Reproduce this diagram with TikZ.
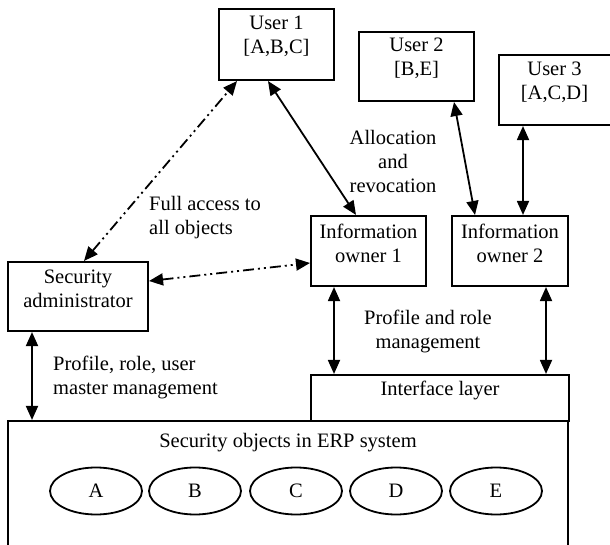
\documentclass[tikz,border=0pt]{standalone}
\usepackage{fontspec}
\setmainfont{Liberation Serif}
\usetikzlibrary{arrows.meta,calc,shapes.geometric}
\begin{document}
\begin{tikzpicture}[x=1pt,y=-1pt,
  box/.style={draw,line width=2.1pt,rectangle,inner sep=0pt},
  lbl/.style={align=center,inner sep=0pt,font=\fontsize{20.5}{24}\selectfont},
  lbll/.style={align=left,inner sep=0pt,anchor=west,font=\fontsize{20.5}{24}\selectfont},
  obj/.style={draw,line width=1.8pt,ellipse,minimum width=92pt,minimum height=47pt,inner sep=0pt,font=\fontsize{20.5}{24}\selectfont},
  arr/.style={line width=1.8pt,{Triangle[length=14pt,width=12pt]}-{Triangle[length=14pt,width=12pt]}},
  dda/.style={arr,dash pattern=on 11pt off 4pt on 2pt off 4pt on 2pt off 4pt},
]
\useasboundingbox (0,0) rectangle (610,545);
\clip (0,0) rectangle (610,545);
% boxes
\node[box,minimum width=115pt,minimum height=71pt] (u1) at (276.5,44.5) {};
\node[lbl] (u1t) at ([yshift=8pt]u1.center) {User 1\\{[A,B,C]}};
\node[box,minimum width=115pt,minimum height=69pt] (u2) at (416.5,66.5) {};
\node[lbl] (u2t) at ([yshift=8pt]u2.center) {User 2\\{[B,E]}};
\node[box,minimum width=115pt,minimum height=70pt] (u3) at (556.5,90) {};
\node[lbl] (u3t) at ([yshift=8pt,xshift=-2pt]u3.center) {User 3\\{[A,C,D]}};
\node[box,minimum width=115pt,minimum height=70pt] (io1) at (368.5,251) {};
\node[lbl] (io1t) at ([yshift=8pt]io1.center) {Information\\owner 1};
\node[box,minimum width=116pt,minimum height=70pt] (io2) at (510,251) {};
\node[lbl] (io2t) at ([yshift=8pt]io2.center) {Information\\owner 2};
\node[box,minimum width=140pt,minimum height=69pt] (sa) at (78,296.5) {};
\node[lbl] (sat) at ([yshift=8pt]sa.center) {Security\\administrator};
\node[box,minimum width=258pt,minimum height=46pt] (ifc) at (440,398) {};
\node[lbl] (ifct) at ([yshift=8pt]ifc.center) {Interface layer};
\node[box,minimum width=560pt,minimum height=135pt] (main) at (288,488.5) {};
\node[lbl] (maint) at (288,443) {Security objects in ERP system};
% objects
\node[obj] (oa) at (96,491) {A};
\node[obj] (ob) at (195,491) {B};
\node[obj] (oc) at (296,491) {C};
\node[obj] (od) at (396,491) {D};
\node[obj] (oe) at (496,491) {E};
% labels
\node[lbl] (alloc) at (393,161) {Allocation\\and\\revocation};
\node[lbll] (full) at (149,218) {Full access to\\all objects};
\node[lbl] (prr) at (428,331) {Profile and role\\management};
\node[lbll] (prum) at (53,377) {Profile, role, user\\master management};
% connectors
\draw[dda] ([xshift=6pt]sa.north) -- ([xshift=-39.5pt]u1.south);
\draw[arr] ([xshift=-8.5pt]u1.south) -- ([xshift=-12.5pt]io1.north);
\draw[dda] ([yshift=15.5pt]sa.east) -- ([yshift=-12pt]io1.west);
\draw[arr] ([xshift=37.5pt]u2.south) -- ([xshift=-35pt]io2.north);
\draw[arr] ([xshift=-33.5pt]u3.south) -- ([xshift=13pt]io2.north);
\draw[arr] ([xshift=-34.5pt]io1.south) -- ([xshift=-34.5pt]io1.south |- ifc.north);
\draw[arr] ([xshift=36pt]io2.south) -- ([xshift=36pt]io2.south |- ifc.north);
\draw[arr] ([xshift=-46pt]sa.south) -- ([xshift=-46pt]sa.south |- main.north);
\end{tikzpicture}
\end{document}
